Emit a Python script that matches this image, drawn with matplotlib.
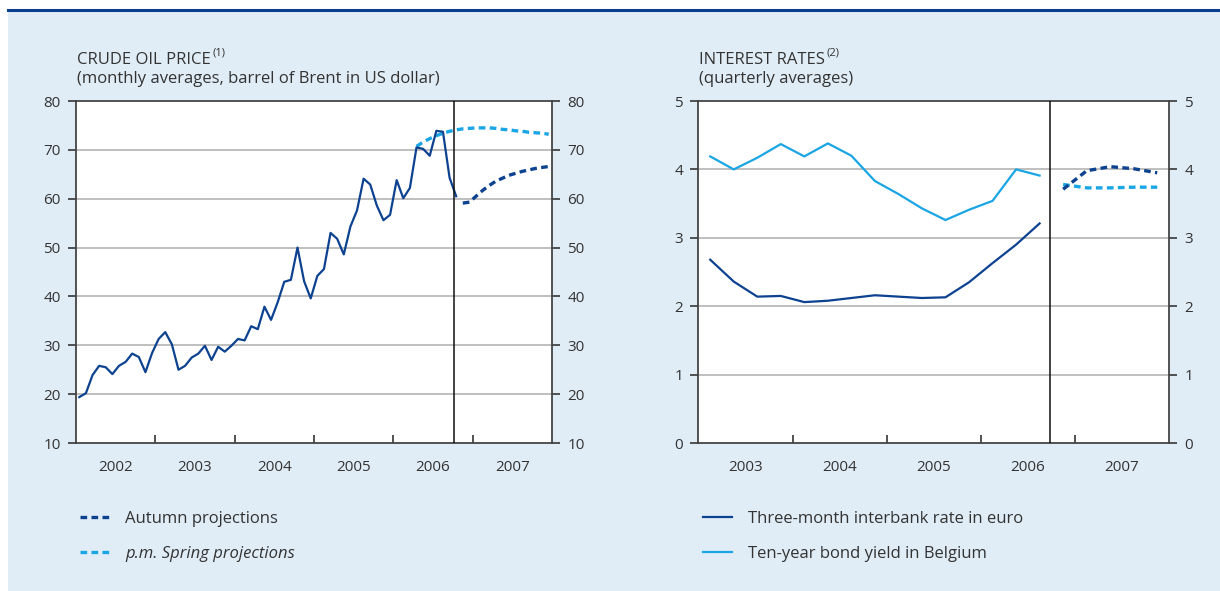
import numpy as np
import matplotlib.pyplot as plt
from matplotlib.patches import Rectangle
from matplotlib.lines import Line2D

plt.rcParams['font.family'] = ['Open Sans', 'DejaVu Sans']

DARK = '#0d4290'
LIGHT = '#1aa5e4'
BG = '#e1edf6'
TXT = '#333333'
GRID = '#b4b4b4'
SPINE = '#444444'

# crude oil, monthly, Jan 2002 - Oct 2006
oil = [19.4, 20.2, 23.9, 25.8, 25.5, 24.1, 25.8, 26.6, 28.3, 27.6, 24.5, 28.4,
       31.3, 32.7, 30.2, 25.0, 25.8, 27.5, 28.3, 29.9, 27.0, 29.7, 28.7, 29.9,
       31.3, 31.0, 33.9, 33.3, 37.9, 35.2, 38.8, 43.0, 43.4, 50.0, 43.1, 39.6,
       44.2, 45.6, 53.0, 51.8, 48.6, 54.3, 57.6, 64.1, 62.9, 58.6, 55.6, 56.7,
       63.8, 60.1, 62.2, 70.5, 70.2, 68.8, 73.9, 73.7, 64.3, 60.5]
# autumn projections, Nov 2006 - Dec 2007
oil_autumn = [59.1, 59.3, 60.5, 61.7, 62.7, 63.6, 64.2, 64.8, 65.2, 65.6,
              65.9, 66.2, 66.4, 66.6]
# spring projections, Apr 2006 - Dec 2007
oil_spring = [70.7, 71.6, 72.3, 72.9, 73.4, 73.8, 74.1, 74.3, 74.4, 74.5,
              74.5, 74.5, 74.4, 74.2, 74.1, 73.9, 73.8, 73.6, 73.5, 73.4, 73.2]

# interest rates, quarterly, Q1 2003 - Q3 2006
euribor = [2.68, 2.36, 2.14, 2.15, 2.06, 2.08, 2.12, 2.16, 2.14, 2.12, 2.13,
           2.35, 2.63, 2.90, 3.21]
olo = [4.19, 4.00, 4.17, 4.37, 4.19, 4.38, 4.20, 3.83, 3.64, 3.43, 3.26,
       3.41, 3.54, 4.00, 3.91]
# projections Q4 2006 - Q4 2007
euribor_proj = [3.71, 3.98, 4.04, 4.01, 3.95]
olo_proj = [3.78, 3.73, 3.73, 3.74, 3.74]

oil_years = ['2002', '2003', '2004', '2005', '2006', '2007']
rate_years = ['2003', '2004', '2005', '2006', '2007']


def month_x(start, n):
    return start + (np.arange(n) + 0.5) / 12.0


def quarter_x(start, n):
    return start + (np.arange(n) + 0.5) / 4.0


def style_axes(ax, ylim, yticks, years, x0, gridvals):
    ax.set_facecolor('white')
    ax.set_ylim(*ylim)
    ax.set_xlim(x0, x0 + len(years))
    for s in ax.spines.values():
        s.set_color(SPINE)
        s.set_linewidth(1.3)
    for g in gridvals:
        ax.axhline(g, color=GRID, lw=1.2, zorder=0)
    ax.set_yticks(yticks)
    ax.tick_params(axis='y', which='both', direction='out', length=6, width=1.3,
                   color=SPINE, labelcolor=TXT, labelsize=11, pad=5,
                   left=True, right=True, labelleft=True, labelright=True)
    ax.set_xticks(np.arange(x0 + 1, x0 + len(years)))
    ax.set_xticklabels([])
    ax.set_xticks(np.arange(len(years)) + x0 + 0.5, minor=True)
    ax.set_xticklabels(years, minor=True)
    ax.tick_params(axis='x', which='major', direction='in', length=6, width=1.3, color=SPINE)
    ax.tick_params(axis='x', which='minor', length=0, pad=12, labelsize=11, labelcolor=TXT)


fig = plt.figure(figsize=(12.2, 5.91), dpi=100)
fig.patch.set_facecolor('white')
fig.patches.append(Rectangle((8 / 1220, 0), 1, 580 / 591, transform=fig.transFigure,
                             facecolor=BG, edgecolor='none', zorder=-10))
fig.lines.append(Line2D([8 / 1220, 1], [1 - 9.5 / 591] * 2, transform=fig.transFigure,
                        color='#0b3f8c', lw=2.2))

# ---- crude oil
ax1 = fig.add_axes([0.0623, 0.2504, 0.3902, 0.5787])
style_axes(ax1, (10, 80), range(10, 81, 10), oil_years, 2002, range(20, 80, 10))
ax1.plot(month_x(2002, len(oil)), oil, color=DARK, lw=1.6, zorder=3)
ax1.plot(month_x(2006 + 3 / 12, len(oil_spring)), oil_spring, color=LIGHT, lw=2.4,
         dashes=(2.0, 1.3), zorder=2, label='p.m. Spring projections')
ax1.plot(month_x(2006 + 10 / 12, len(oil_autumn)), oil_autumn, color=DARK, lw=2.4,
         dashes=(2.0, 1.3), zorder=3, label='Autumn projections')
ax1.axvline(2006.77, color='#111111', lw=1.1, zorder=4)

h, l = ax1.get_legend_handles_labels()
leg1 = ax1.legend(h[::-1], l[::-1], loc='upper left', bbox_to_anchor=(-0.005, -0.178),
                  frameon=False, fontsize=12, handlelength=1.75, handletextpad=0.95,
                  labelspacing=1.15, borderaxespad=0)
for t in leg1.get_texts():
    t.set_color(TXT)
leg1.get_texts()[1].set_style('italic')

t1 = fig.text(77 / 1220, 1 - 64 / 591, 'CRUDE OIL PRICE', fontsize=12, color=TXT,
              va='baseline', ha='left')
fig.text(77 / 1220, 1 - 83 / 591, '(monthly averages, barrel of Brent in US dollar)',
         fontsize=12, color=TXT, va='baseline', ha='left')
ax1.annotate('(1)', xy=(1.0, 0.6), xycoords=t1, xytext=(1, 0), textcoords='offset points',
             fontsize=8, color=TXT, va='bottom', ha='left')

# ---- interest rates
ax2 = fig.add_axes([0.5725, 0.2504, 0.3857, 0.5787])
style_axes(ax2, (0, 5), range(0, 6), rate_years, 2003, range(1, 5))
ax2.plot(quarter_x(2003, len(euribor)), euribor, color=DARK, lw=1.6, zorder=3,
         label='Three-month interbank rate in euro')
ax2.plot(quarter_x(2003, len(olo)), olo, color=LIGHT, lw=1.6, zorder=3,
         label='Ten-year bond yield in Belgium')
ax2.plot(quarter_x(2006.75, len(olo_proj)), olo_proj, color=LIGHT, lw=2.4,
         dashes=(2.0, 1.3), zorder=2)
ax2.plot(quarter_x(2006.75, len(euribor_proj)), euribor_proj, color=DARK, lw=2.4,
         dashes=(2.0, 1.3), zorder=3)
ax2.axvline(2006.74, color='#111111', lw=1.1, zorder=4)

leg2 = ax2.legend(loc='upper left', bbox_to_anchor=(-0.005, -0.178), frameon=False,
                  fontsize=12, handlelength=1.75, handletextpad=0.95, labelspacing=1.15,
                  borderaxespad=0)
for t in leg2.get_texts():
    t.set_color(TXT)

t2 = fig.text(699 / 1220, 1 - 64 / 591, 'INTEREST RATES', fontsize=12, color=TXT,
              va='baseline', ha='left')
fig.text(699 / 1220, 1 - 83 / 591, '(quarterly averages)', fontsize=12, color=TXT,
         va='baseline', ha='left')
ax2.annotate('(2)', xy=(1.0, 0.6), xycoords=t2, xytext=(1, 0), textcoords='offset points',
             fontsize=8, color=TXT, va='bottom', ha='left')

fig.savefig('out.png', dpi=100, facecolor=fig.get_facecolor())
